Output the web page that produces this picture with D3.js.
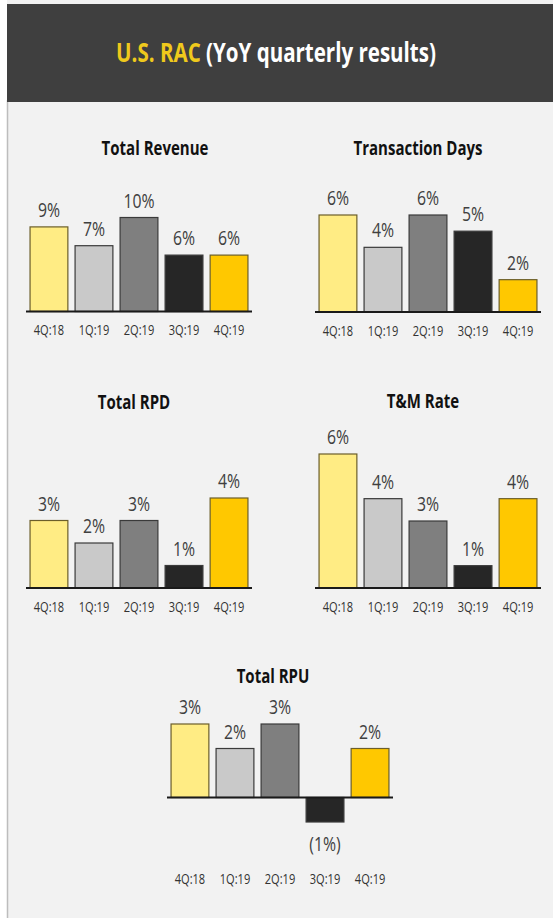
<!DOCTYPE html>
<html>
<head>
<meta charset="utf-8">
<script src="https://cdn.jsdelivr.net/npm/d3@7"></script>
<style>
  body { margin: 0; background: #ffffff; }
  svg text { font-family: "Open Sans", sans-serif; }
</style>
</head>
<body>
<script>
// quarters and bar colours
var quarters = ["4Q:18", "1Q:19", "2Q:19", "3Q:19", "4Q:19"];
var barColors = ["#FFEC84", "#C9C9C9", "#7F7F7F", "#262626", "#FFC800"];

// YoY values per metric (%)
var totalRevenue = [9, 7, 10, 6, 6];
var transactionDays = [6, 4, 6, 5, 2];
var totalRPD = [3, 2, 3, 1, 4];
var tmRate = [6, 4, 3, 1, 4];
var totalRPU = [3, 2, 3, -1, 2];

var width = 553, height = 918;
var squeeze = 0.79; // narrow the font to look like the original condensed face

function place(x, y) {
  return "translate(" + x + "," + y + ") scale(" + squeeze + ",1)";
}

var svg = d3.select("body")
            .append("svg")
            .attr("width", width)
            .attr("height", height);

// page background and left rule
svg.append("rect")
   .attr("x", 7).attr("y", 0)
   .attr("width", width - 7).attr("height", height)
   .style("fill", "#F2F2F2");

svg.append("line")
   .attr("x1", 7.5).attr("x2", 7.5)
   .attr("y1", 100).attr("y2", height)
   .style("stroke", "#BDBDBD")
   .style("stroke-width", 1.5);

// header band
svg.append("rect")
   .attr("x", 7).attr("y", 4)
   .attr("width", width - 7).attr("height", 98)
   .style("fill", "#3F3F3F");

var head = svg.append("text")
              .attr("transform", place(276, 62))
              .style("text-anchor", "middle")
              .style("font-size", "26px")
              .style("font-weight", "bold");
head.append("tspan").style("fill", "#EFC91C").text("U.S. RAC ");
head.append("tspan").style("fill", "#FFFFFF").text("(YoY quarterly results)");

// panel layout
var panels = [
  {title: "Total Revenue", data: totalRevenue, x0: 26, x1: 252, base: 311.5, max: 10, top: 217.5, tx: 155, ty: 155},
  {title: "Transaction Days", data: transactionDays, x0: 315, x1: 541, base: 312, max: 6, top: 215, tx: 418, ty: 155},
  {title: "Total RPD", data: totalRPD, x0: 26, x1: 252, base: 588, max: 4, top: 498, tx: 134, ty: 409},
  {title: "T&M Rate", data: tmRate, x0: 315, x1: 541, base: 588, max: 6, top: 454, tx: 423, ty: 408},
  {title: "Total RPU", data: totalRPU, x0: 167, x1: 393, base: 797.5, max: 3, top: 724, tx: 273, ty: 683}
];

panels.forEach(function(p) { drawPanel(p); });

function drawPanel(p) {
  var g = svg.append("g");

  var x = d3.scaleBand()
            .domain(quarters)
            .range([p.x0, p.x1])
            .paddingInner(0.16)
            .paddingOuter(0.09);

  var y = d3.scaleLinear()
            .domain([0, p.max])
            .range([p.base, p.top]);

  var rows = quarters.map(function(q, i) { return {q: q, v: p.data[i], c: barColors[i]}; });
  var hasNeg = d3.min(p.data) < 0;

  g.append("text")
   .attr("transform", place(p.tx, p.ty))
   .style("text-anchor", "middle")
   .style("font-size", "19px")
   .style("font-weight", "bold")
   .style("fill", "#111111")
   .text(p.title);

  g.selectAll("rect.bar")
   .data(rows)
   .enter().append("rect")
   .attr("class", "bar")
   .attr("x", function(d) { return x(d.q); })
   .attr("y", function(d) { return Math.min(y(d.v), y(0)); })
   .attr("width", x.bandwidth())
   .attr("height", function(d) { return Math.abs(y(d.v) - y(0)); })
   .style("fill", function(d) { return d.c; })
   .style("stroke", function(d, i) { return i == 0 || i == 4 ? "#6B5E2A" : "#3A3A3A"; })
   .style("stroke-width", 1.2);

  // value labels
  g.selectAll("text.val")
   .data(rows)
   .enter().append("text")
   .attr("class", "val")
   .attr("transform", function(d) {
     var ly = d.v < 0 ? y(d.v) + 29 : y(d.v) - 10;
     return place(x(d.q) + x.bandwidth() / 2, ly);
   })
   .style("text-anchor", "middle")
   .style("font-size", "20px")
   .style("fill", "#404040")
   .text(function(d) { return d.v < 0 ? "(" + Math.abs(d.v) + "%)" : d.v + "%"; });

  // baseline
  g.append("line")
   .attr("x1", p.x0).attr("x2", p.x1)
   .attr("y1", y(0)).attr("y2", y(0))
   .style("stroke", "#1A1A1A")
   .style("stroke-width", 1.8);

  // category labels
  var tickY = hasNeg ? y(d3.min(p.data)) + 62 : y(0) + 23.5;
  g.selectAll("text.tick")
   .data(rows)
   .enter().append("text")
   .attr("class", "tick")
   .attr("transform", function(d) { return place(x(d.q) + x.bandwidth() / 2, tickY); })
   .style("text-anchor", "middle")
   .style("font-size", "14px")
   .style("fill", "#333333")
   .text(function(d) { return d.q; });
}
</script>
</body>
</html>
